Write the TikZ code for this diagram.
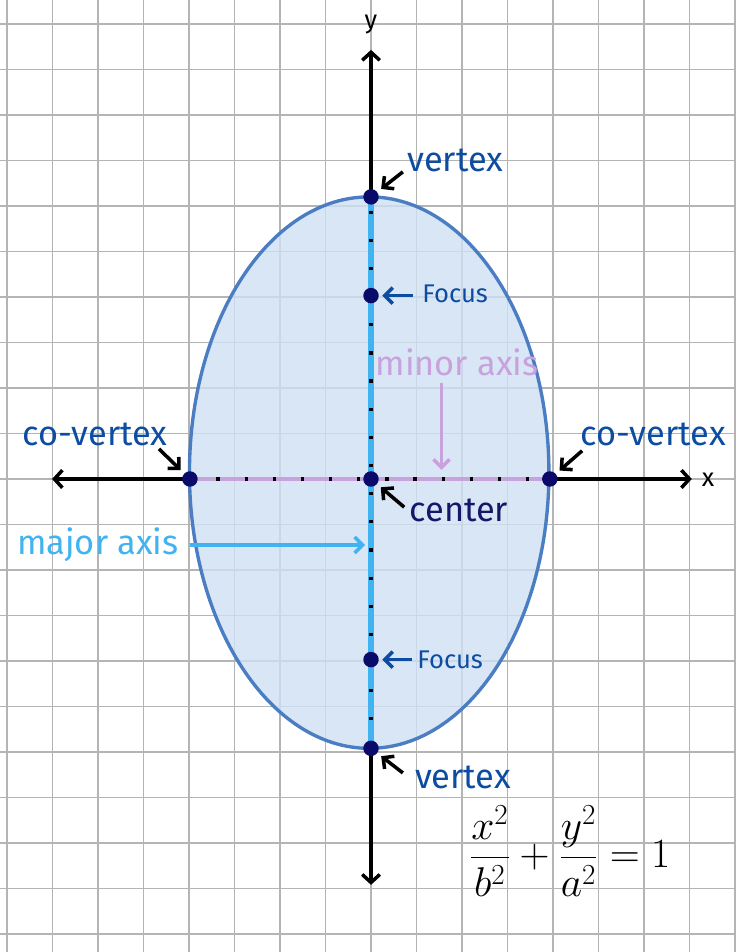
\RequirePackage{fix-cm}
\documentclass[tikz,border=0pt]{standalone}
\usepackage{amsmath}
\usepackage{fontspec}
\setmainfont{Fira Sans}
\usepackage{xcolor}
\usetikzlibrary{arrows.meta,positioning}

\definecolor{gridgray}{HTML}{B4B4B4}
\definecolor{ellfill}{HTML}{D0E0F3}
\definecolor{ellblue}{HTML}{4A7DC2}
\definecolor{labelblue}{HTML}{0C4DA2}
\definecolor{centernavy}{HTML}{16176A}
\definecolor{dotnavy}{HTML}{0A0A6B}
\definecolor{majorblue}{HTML}{41B3F0}
\definecolor{minorpurple}{HTML}{C7A2DD}

\begin{document}
\begin{tikzpicture}[
        dot/.style={circle, fill=dotnavy, inner sep=0pt, minimum size=0.34cm},
        axis/.style={line width=2.2pt, -{Straight Barb[length=5pt,width=11pt]}},
        pointer/.style={line width=2.2pt, -{Straight Barb[length=5pt,width=10pt]}, shorten >=3pt},
        biglabel/.style={font=\fontsize{21.5}{25}\selectfont, text=labelblue, inner sep=0pt},
        smalllabel/.style={font=\fontsize{16}{19}\selectfont, text=labelblue, inner sep=0pt},
        axislabel/.style={font=\fontsize{16}{19}\selectfont, inner sep=0pt}
    ]

    % Paper and grid
    \useasboundingbox (-8.154,-10.396) rectangle (8.022,10.527);
    \fill[white] (-8.154,-10.396) rectangle (8.022,10.527);
    \draw[gridgray, line width=0.8pt] (-8.154,-10.396) grid (8.022,10.527);

    % Ellipse
    \filldraw[fill=ellfill, fill opacity=0.8, draw=ellblue, line width=2.1pt]
        (-0.04,0.14) ellipse [x radius=3.95, y radius=6.06];

    % Key points
    \coordinate (O) at (0,0);
    \coordinate (pV1) at (0,6.2);
    \coordinate (pV2) at (0,-5.92);
    \coordinate (pC1) at (-3.98,0);
    \coordinate (pC2) at (3.93,0);
    \coordinate (pF1) at (0,4.03);
    \coordinate (pF2) at (0,-3.97);

    % Axes
    \coordinate (ytop) at (0,9.43);
    \coordinate (ybot) at (0,-8.92);
    \coordinate (xleft) at (-7.01,0);
    \coordinate (xright) at (7.05,0);
    \draw[axis] (O) -- (ytop);
    \draw[axis] (O) -- (ybot);
    \draw[axis] (O) -- (xleft);
    \draw[axis] (O) -- (xright);
    \node[axislabel] (ylbl) at (0,9.98) {y};
    \node[axislabel] (xlbl) at (7.41,-0.02) {x};

    % Major and minor axis
    \draw[majorblue, line width=3.2pt] (pV1) -- (pV2);
    \draw[black, line width=2pt, dash pattern=on 2pt off 15.6pt, dash phase=9pt] (pV1) -- (pV2);
    \draw[minorpurple, line width=2.8pt] (pC1) -- (pC2);
    \draw[black, line width=2pt, dash pattern=on 2pt off 15.6pt, dash phase=1pt] (pC1) -- (pC2);

    % Dots
    \node[dot] (vtop) at (pV1) {};
    \node[dot] (vbot) at (pV2) {};
    \node[dot] (cvl) at (pC1) {};
    \node[dot] (cvr) at (pC2) {};
    \node[dot] (ftop) at (pF1) {};
    \node[dot] (fbot) at (pF2) {};
    \node[dot] (ctr) at (O) {};

    % Labels
    \node[biglabel] (vtoplbl) at (1.85,7.01) {vertex};
    \node[biglabel] (vbotlbl) at (2.02,-6.55) {vertex};
    \node[biglabel] (cvllbl) at (-6.07,0.97) {co-vertex};
    \node[biglabel] (cvrlbl) at (6.2,0.99) {co-vertex};
    \node[biglabel, text=centernavy] (ctrlbl) at (1.93,-0.68) {center};
    \node[smalllabel] (ftoplbl) at (1.85,4.07) {Focus};
    \node[smalllabel] (fbotlbl) at (1.74,-3.98) {Focus};
    \node[biglabel, text=majorblue] (majlbl) at (-6.0,-1.45) {major axis};
    \node[biglabel, text=minorpurple] (minlbl) at (1.89,2.57) {minor axis};

    % Pointer arrows
    \coordinate (tV1) at (0.70,6.75);
    \coordinate (tV2) at (0.70,-6.46);
    \coordinate (tC1) at (-4.66,0.66);
    \coordinate (tC2) at (4.64,0.62);
    \coordinate (tO) at (0.73,-0.62);
    \coordinate (tF1) at (0.92,4.03);
    \coordinate (tF2) at (0.90,-3.97);
    \draw[pointer] (tV1) -- (vtop);
    \draw[pointer] (tV2) -- (vbot);
    \draw[pointer] (tC1) -- (cvl);
    \draw[pointer] (tC2) -- (cvr);
    \draw[pointer] (tO) -- (ctr);
    \draw[pointer, labelblue, shorten >=2pt] (tF1) -- (ftop);
    \draw[pointer, labelblue, shorten >=2pt] (tF2) -- (fbot);

    % Axis name arrows
    \coordinate (majtail) at (-3.98,-1.45);
    \coordinate (majhead) at (-0.13,-1.45);
    \draw[pointer, majorblue, shorten >=0pt] (majtail) -- (majhead);
    \coordinate (mintail) at (1.55,2.11);
    \coordinate (minhead) at (1.55,0.2);
    \draw[pointer, minorpurple, shorten >=0pt] (mintail) -- (minhead);

    % Equation
    \node[font=\fontsize{26}{31}\selectfont, inner sep=0pt] (eqn) at (4.37,-8.18)
        {$\displaystyle \frac{x^2}{b^2}+\frac{y^2}{a^2}=1$};

\end{tikzpicture}
\end{document}
